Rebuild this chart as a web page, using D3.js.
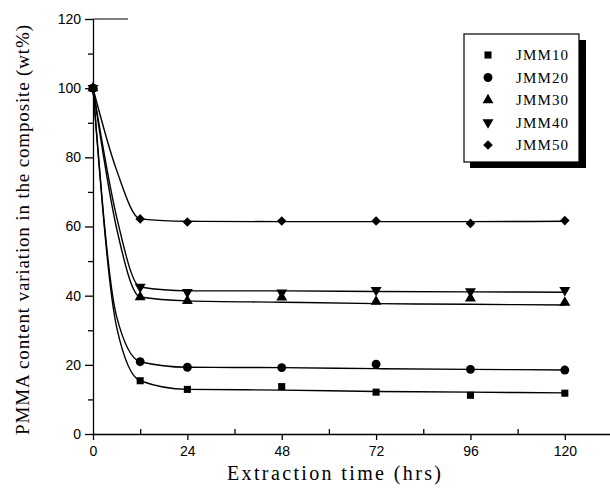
<!DOCTYPE html>
<html>
<head>
<meta charset="utf-8">
<script src="https://cdn.jsdelivr.net/npm/d3@7"></script>
<style>
  body { margin:0; background:#fff; }
  .tick text { font-family:'Liberation Sans', Arial, sans-serif; font-size:14px; fill:#000; }
  .domain, .tick line { stroke:#000; stroke-width:1.3; }
  .title { font-family:'Liberation Serif', 'Times New Roman', serif; fill:#000; }
  .legend text { font-family:'Liberation Serif', 'Times New Roman', serif; font-size:15px; fill:#000; }
  .fit { fill:none; stroke:#000; stroke-width:1.4; }
</style>
</head>
<body>
<svg id="viewer"></svg>
<script>
var hours = [0, 12, 24, 48, 72, 96, 120];
var seriesNames = ['JMM10', 'JMM20', 'JMM30', 'JMM40', 'JMM50'];

// measured points (wt%)
var jmm10 = [100, 15.4, 12.9, 13.7, 12.1, 11.2, 11.8];
var jmm20 = [100, 20.9, 19.3, 19.2, 20.2, 18.7, 18.5];
var jmm30 = [100, 39.6, 38.5, 39.5, 38.3, 39.2, 38.0];
var jmm40 = [100, 42.5, 41.0, 40.9, 41.6, 41.2, 41.6];
var jmm50 = [100, 62.2, 61.3, 61.6, 61.6, 60.9, 61.7];

// the fitted curves
var fitHours = [0, 6, 12, 24, 48, 72, 96, 120];
var fit10 = [100, 31, 15.4, 12.9, 12.7, 12.3, 12.1, 11.9];
var fit20 = [100, 34, 20.9, 19.3, 19.2, 18.9, 18.7, 18.5];
var fit30 = [100, 59.5, 39.6, 38.5, 38.1, 37.7, 37.5, 37.3];
var fit40 = [100, 62.8, 42.5, 41.4, 41.4, 41.2, 41.1, 41.0];
var fit50 = [100, 76.3, 62.2, 61.5, 61.4, 61.4, 61.4, 61.5];

var xTicks = [0, 24, 48, 72, 96, 120];
var yTicks = [0, 20, 40, 60, 80, 100, 120];

var points = [jmm10, jmm20, jmm30, jmm40, jmm50];
var fits = [fit10, fit20, fit30, fit40, fit50];
var shapes = ['square', 'circle', 'up', 'down', 'diamond'];

var viewer = d3.select('#viewer')
  .attr('width', 610)
  .attr('height', 488);

var x = d3.scaleLinear().domain([0, 132]).range([93, 612]);
var y = d3.scaleLinear().domain([0, 120]).range([434, 19]);

// minor ticks first, so major ones sit on top
viewer.append('g')
  .attr('transform', 'translate(0,434)')
  .call(d3.axisTop(x).tickValues([12, 36, 60, 84, 108]).tickSize(5).tickFormat(''))
  .call(function(g){ g.select('.domain').remove(); });

viewer.append('g')
  .attr('transform', 'translate(93,0)')
  .call(d3.axisLeft(y).tickValues([10, 30, 50, 70, 90, 110]).tickSize(5).tickFormat(''))
  .call(function(g){ g.select('.domain').remove(); });

viewer.append('g')
  .attr('transform', 'translate(0,434)')
  .call(d3.axisBottom(x).tickValues(xTicks).tickSize(6).tickSizeOuter(0).tickPadding(6));

viewer.append('g')
  .attr('transform', 'translate(93,0)')
  .call(d3.axisLeft(y).tickValues(yTicks).tickSize(8).tickSizeOuter(0).tickPadding(4));

// small stub of the top frame
viewer.append('line')
  .attr('x1', 93).attr('x2', 128)
  .attr('y1', 19).attr('y2', 19)
  .style('stroke', '#000').style('stroke-width', 1.2);

var line = d3.line()
  .x(function(d, i){ return x(fitHours[i]); })
  .y(function(d){ return y(d); })
  .curve(d3.curveMonotoneX);

viewer.selectAll('.fit')
  .data(fits)
  .enter().append('path')
    .attr('class', 'fit')
    .attr('d', line);

function symbolPath(shape)
{
  if (shape == 'square') return d3.symbol().type(d3.symbolSquare).size(50)();
  if (shape == 'circle') return d3.symbol().type(d3.symbolCircle).size(62)();
  if (shape == 'diamond') return d3.symbol().type(d3.symbolSquare).size(46)();
  return d3.symbol().type(d3.symbolTriangle).size(52)();
}

function symbolRotate(shape)
{
  if (shape == 'down') return 180;
  if (shape == 'diamond') return 45;
  return 0;
}

var markerGroups = viewer.selectAll('.series')
  .data(points)
  .enter().append('g')
    .attr('class', 'series');

markerGroups.selectAll('path')
  .data(function(d, i){ return d.map(function(v, j){ return {v:v, t:hours[j], shape:shapes[i]}; }); })
  .enter().append('path')
    .attr('d', function(d){ return symbolPath(d.shape); })
    .attr('transform', function(d){ return 'translate(' + x(d.t) + ',' + y(d.v) + ') rotate(' + symbolRotate(d.shape) + ')'; })
    .style('fill', '#000');

// legend
var legend = viewer.append('g').attr('class', 'legend');
legend.append('rect')
  .attr('x', 470).attr('y', 40)
  .attr('width', 116).attr('height', 128)
  .style('fill', '#000');
legend.append('rect')
  .attr('x', 464).attr('y', 34)
  .attr('width', 115).attr('height', 128)
  .style('fill', '#fff').style('stroke', '#000').style('stroke-width', 1.2);

var legendRows = legend.selectAll('.row')
  .data(seriesNames)
  .enter().append('g')
    .attr('class', 'row')
    .attr('transform', function(d, i){ return 'translate(0,' + (55 + i * 22.5) + ')'; });

legendRows.append('path')
  .attr('d', function(d, i){ return symbolPath(shapes[i]); })
  .attr('transform', function(d, i){ return 'translate(488,0) rotate(' + symbolRotate(shapes[i]) + ')'; })
  .style('fill', '#000');

legendRows.append('text')
  .attr('x', 516)
  .attr('y', 5)
  .attr('textLength', 52)
  .text(function(d){ return d; });

// axis titles
viewer.append('text')
  .attr('class', 'title')
  .attr('x', 334)
  .attr('y', 480)
  .attr('text-anchor', 'middle')
  .attr('textLength', 214)
  .attr('lengthAdjust', 'spacing')
  .style('font-size', '20px')
  .text('Extraction time (hrs)');

viewer.append('text')
  .attr('class', 'title')
  .attr('transform', 'translate(29,230) rotate(-90)')
  .attr('text-anchor', 'middle')
  .attr('textLength', 410)
  .attr('lengthAdjust', 'spacing')
  .style('font-size', '19px')
  .text('PMMA content variation in the composite (wt%)');
</script>
</body>
</html>
